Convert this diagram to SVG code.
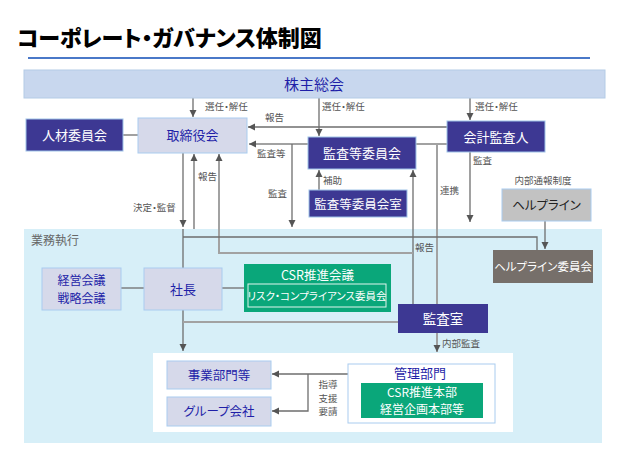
<svg xmlns="http://www.w3.org/2000/svg" width="623" height="467" viewBox="0 0 623 467">
<style>
text{font-family:"Noto Sans CJK JP","Noto Sans",sans-serif;font-feature-settings:"palt" 1;}
.title{font-size:22px;font-weight:900;fill:#000;}
.lbl{font-size:9.5px;fill:#555;}
.dark{fill:#3d3893;stroke:#9fc3e8;stroke-width:1;}
.light{fill:#d6d9ea;stroke:#a9ccef;stroke-width:1;}
.green{fill:#0aa77a;}
.tw{fill:#fff;text-anchor:middle;}
.tb{fill:#1f1fa8;text-anchor:middle;}
.c{fill:none;stroke:#6e6e6e;stroke-width:1.3;}
.cl{fill:none;stroke:#a2a2a2;stroke-width:2;}
</style>
<defs>
<marker id="ah" markerUnits="userSpaceOnUse" markerWidth="8" markerHeight="8" refX="7" refY="4" orient="auto">
<path d="M0,0.5 L7,4 L0,7.5 Z" fill="#555"/>
</marker>
</defs>
<rect width="623" height="467" fill="#fff"/>
<text class="title" x="17" y="46">コーポレート・ガバナンス体制図</text>
<line x1="28" y1="58" x2="590" y2="58" stroke="#4a78c8" stroke-width="2"/>

<g id="area-gyomu">
<rect x="24" y="229" width="578" height="214" fill="#d7eff8"/>
<text x="31" y="245" font-size="12" fill="#666">業務執行</text>
</g>
<rect x="153" y="353" width="360" height="79" fill="#fff"/>

<g id="connectors">
<path class="c" d="M193,98 V117" marker-end="url(#ah)"/>
<path class="c" d="M319,98 V136" marker-end="url(#ah)"/>
<path class="c" d="M470,98 V120" marker-end="url(#ah)"/>
<path class="c" d="M123,135 H138"/>
<path class="c" d="M447,127 H248" marker-end="url(#ah)"/>
<path class="cl" d="M447,144 H249" marker-end="url(#ah)"/>
<path class="c" d="M292,144 V227" marker-end="url(#ah)"/>
<path class="cl" d="M437,145 V305"/>
<path class="cl" d="M437,333 V352" marker-end="url(#ah)"/>
<path class="c" d="M470,152 V222" marker-end="url(#ah)"/>
<path class="c" d="M319,190 V170" marker-end="url(#ah)"/>
<path class="c" d="M413,304 V170" marker-end="url(#ah)"/>
<path class="cl" d="M413,253 H219 V154" marker-end="url(#ah)"/>
<path class="c" d="M183,153 V227" marker-end="url(#ah)"/>
<path class="c" d="M194,229 V154" marker-end="url(#ah)"/>
<path class="c" d="M183,229 V351" marker-end="url(#ah)"/>
<path class="c" d="M183,237 H537 V250"/>
<path class="c" d="M545,221 V249" marker-end="url(#ah)"/>
<path class="c" d="M121,288 H144"/>
<path class="c" d="M222,288 H244"/>
<path class="cl" d="M183,322 H398"/>
<path class="c" d="M348,374 H272" marker-end="url(#ah)"/>
<path class="c" d="M308,374 V411 H272" marker-end="url(#ah)"/>
<text class="lbl" x="205" y="110">選任・解任</text>
<text class="lbl" x="322" y="110">選任・解任</text>
<text class="lbl" x="475" y="110">選任・解任</text>
<text class="lbl" x="265" y="121">報告</text>
<text class="lbl" x="257" y="157">監査等</text>
<text class="lbl" x="268" y="197">監査</text>
<text class="lbl" x="440" y="194">連携</text>
<text class="lbl" x="473" y="164">監査</text>
<text class="lbl" x="323" y="184">補助</text>
<text class="lbl" x="415" y="251">報告</text>
<text class="lbl" x="133" y="211">決定・監督</text>
<text class="lbl" x="198" y="180">報告</text>
<text class="lbl" x="442" y="347">内部監査</text>
<text class="lbl" x="328" y="388" text-anchor="middle">指導</text>
<text class="lbl" x="328" y="402" text-anchor="middle">支援</text>
<text class="lbl" x="328" y="415" text-anchor="middle">要請</text>
</g>

<g id="kabunushi">
<rect x="24" y="70" width="581" height="28" fill="#c8d7ee" stroke="#b4cbe6"/>
<text class="tb" x="314" y="90" font-size="15">株主総会</text>
</g>
<g id="jinzai">
<rect class="dark" x="26" y="119" width="97" height="32"/>
<text class="tw" x="74.5" y="140" font-size="13">人材委員会</text>
</g>
<g id="torishimariyaku">
<rect class="light" x="138" y="118" width="109" height="35"/>
<text class="tb" x="192.5" y="140" font-size="13">取締役会</text>
</g>
<g id="kansatou">
<rect class="dark" x="308" y="137" width="108" height="32"/>
<text class="tw" x="362" y="158" font-size="13">監査等委員会</text>
</g>
<g id="kansatou-shitsu">
<rect class="dark" x="309" y="190" width="98" height="27"/>
<text class="tw" x="358" y="208.5" font-size="12.5">監査等委員会室</text>
</g>
<g id="kaikei">
<rect class="dark" x="447" y="121" width="98" height="31"/>
<text class="tw" x="496" y="141.5" font-size="13">会計監査人</text>
</g>
<g id="helpline">
<text class="lbl" x="543" y="184" text-anchor="middle">内部通報制度</text>
<rect x="502" y="189" width="89" height="32" fill="#c2c2c2" stroke="#a9ccef"/>
<text x="546.5" y="210" font-size="12.5" fill="#222" text-anchor="middle">ヘルプライン</text>
</g>
<g id="helpline-iinkai">
<rect x="493" y="250" width="100" height="33" fill="#766f6a"/>
<text class="tw" x="543" y="271" font-size="11.5">ヘルプライン委員会</text>
</g>
<g id="keiei-kaigi">
<rect class="light" x="42" y="268" width="79" height="42" fill="#d8d8ec"/>
<text class="tb" x="81.5" y="284.5" font-size="12">経営会議</text>
<text class="tb" x="81.5" y="302.5" font-size="12">戦略会議</text>
</g>
<g id="shacho">
<rect class="light" x="144" y="268" width="78" height="42"/>
<text class="tb" x="183" y="294" font-size="13">社長</text>
</g>
<g id="csr-kaigi">
<rect class="green" x="244" y="264" width="147" height="48"/>
<text class="tw" x="317.5" y="280" font-size="12.5">CSR推進会議</text>
<rect x="248" y="284" width="138" height="23" fill="none" stroke="#e0f5ee" stroke-width="1"/>
<text class="tw" x="317" y="300" font-size="10.5">リスク・コンプライアンス委員会</text>
</g>
<g id="kansashitsu">
<rect x="398" y="304" width="90" height="29" fill="#3d3893"/>
<text class="tw" x="443" y="324" font-size="13.5">監査室</text>
</g>
<g id="jigyo">
<rect class="light" x="167" y="361" width="104" height="28" fill="#d2d8ec"/>
<text class="tb" x="219" y="380" font-size="12.5">事業部門等</text>
</g>
<g id="group">
<rect class="light" x="167" y="397" width="104" height="29" fill="#d2d8ec"/>
<text class="tb" x="219" y="416" font-size="12.5">グループ会社</text>
</g>
<g id="kanri">
<rect x="348" y="364" width="147" height="59" fill="#fff" stroke="#a9ccef"/>
<text class="tb" x="420" y="378" font-size="13">管理部門</text>
<rect class="green" x="361" y="383" width="122" height="35"/>
<text class="tw" x="422" y="396.5" font-size="12">CSR推進本部</text>
<text class="tw" x="422" y="414" font-size="12">経営企画本部等</text>
</g>
</svg>
